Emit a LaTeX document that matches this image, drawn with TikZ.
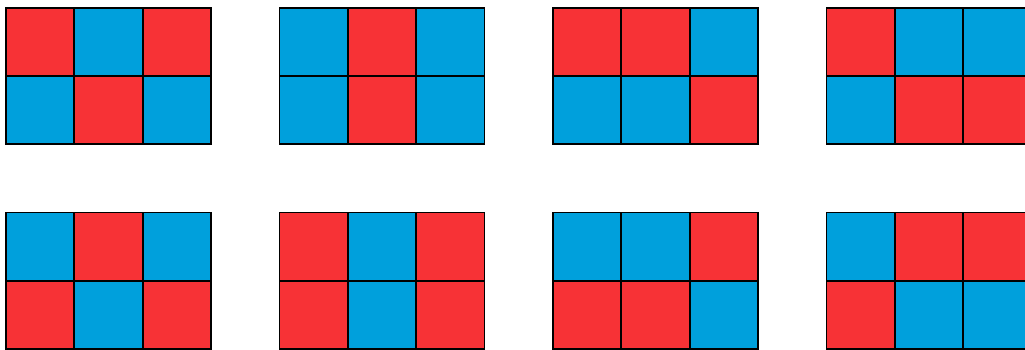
\documentclass[tikz,border=0pt]{standalone}
\definecolor{cred}{RGB}{247,50,54}
\definecolor{cblue}{RGB}{0,160,220}
\tikzset{cell/.style={draw=black,line width=1.8pt,line cap=rect}}
\newcommand{\gridpat}[3]{% x, y(top), pattern list of 6 letters
  \foreach \c [count=\i from 0] in {#3}{
    \pgfmathtruncatemacro{\col}{mod(\i,3)}
    \pgfmathtruncatemacro{\row}{int(\i/3)}
    \if R\c\def\fc{cred}\else\def\fc{cblue}\fi
    \fill[\fc] ({#1+\col*68.3pt},{-#2-\row*68.3pt}) rectangle ++(68.3pt,-68.3pt);
  }
  \foreach \k in {0,1,2,3}{\draw[cell] ({#1+\k*68.3pt},{-#2}) -- ++(0,-136.6pt);}
  \foreach \k in {0,1,2}{\draw[cell] ({#1},{-#2-\k*68.3pt}) -- ++(204.9pt,0);}
}
\begin{document}
\begin{tikzpicture}[x=1pt,y=1pt]
\useasboundingbox (0,0) rectangle (1025,-349);
\gridpat{6}{7.7}{R,B,R,B,R,B}
\gridpat{279.5}{7.7}{B,R,B,B,R,B}
\gridpat{553}{7.7}{R,R,B,B,B,R}
\gridpat{826.5}{7.7}{R,B,B,B,R,R}
\gridpat{6}{212.4}{B,R,B,R,B,R}
\gridpat{279.5}{212.4}{R,B,R,R,B,R}
\gridpat{553}{212.4}{B,B,R,R,R,B}
\gridpat{826.5}{212.4}{B,R,R,R,B,B}
\end{tikzpicture}
\end{document}
